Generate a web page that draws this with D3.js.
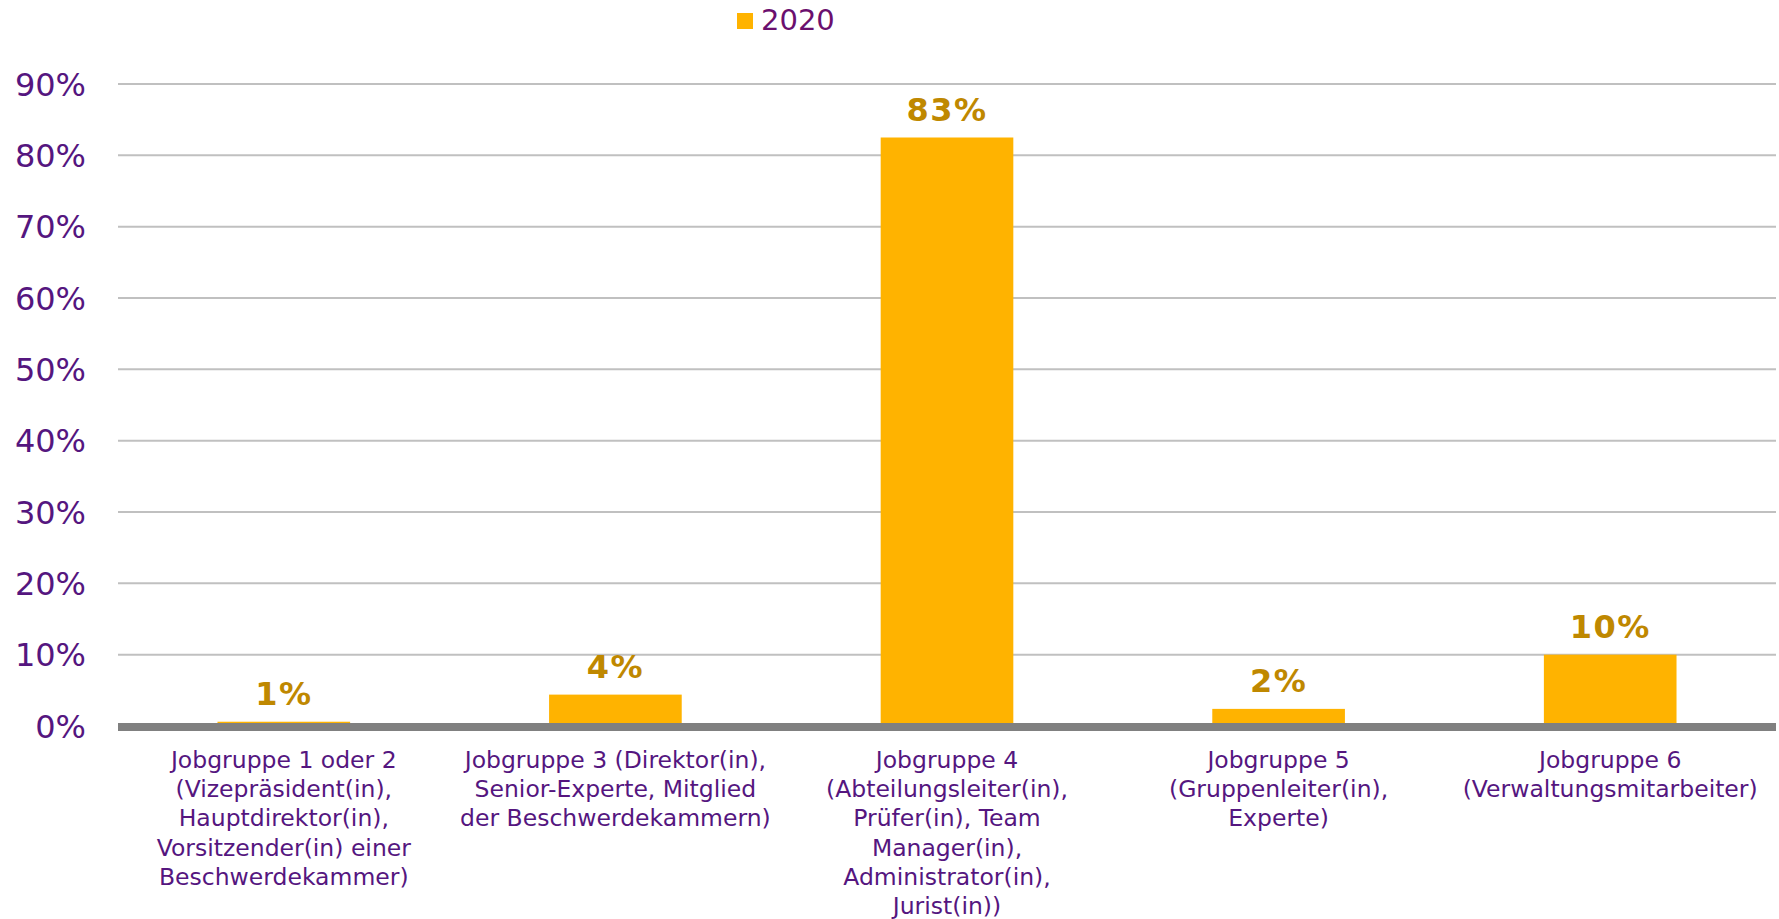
<!DOCTYPE html>
<html>
<head>
<meta charset="utf-8">
<script src="https://cdn.jsdelivr.net/npm/d3@7"></script>
<style>
	body { margin: 0; background: #fff; }
	svg text { font-family: "DejaVu Sans", Verdana, sans-serif; }
</style>
</head>
<body>
<div id="chart"></div>
<script>
var categories = ["g1", "g3", "g4", "g5", "g6"];
var categoryLines = [
	["Jobgruppe 1 oder 2", "(Vizepräsident(in),", "Hauptdirektor(in),", "Vorsitzender(in) einer", "Beschwerdekammer)"],
	["Jobgruppe 3 (Direktor(in),", "Senior-Experte, Mitglied", "der Beschwerdekammern)"],
	["Jobgruppe 4", "(Abteilungsleiter(in),", "Prüfer(in), Team", "Manager(in),", "Administrator(in),", "Jurist(in))"],
	["Jobgruppe 5", "(Gruppenleiter(in),", "Experte)"],
	["Jobgruppe 6", "(Verwaltungsmitarbeiter)"]
];
var values2020 = [0.6, 4.4, 82.5, 2.4, 10.0];
var valueLabels = ["1%", "4%", "83%", "2%", "10%"];
var yTicks = [0, 10, 20, 30, 40, 50, 60, 70, 80, 90];
var seriesName = "2020";

var width = 1779, height = 919;
var margin = {top: 84, right: 3, bottom: 193, left: 118};

var svg = d3.select("#chart").append("svg")
	.attr("width", width)
	.attr("height", height);

var xScale = d3.scaleBand()
	.domain(categories)
	.range([margin.left, width - margin.right])
	.paddingInner(0.6)
	.paddingOuter(0.3);

var yScale = d3.scaleLinear()
	.domain([0, 90])
	.range([height - margin.bottom, margin.top]);

// gridlines
svg.append("g")
	.selectAll("line")
	.data(yTicks)
	.enter()
	.append("line")
	.attr("x1", margin.left)
	.attr("x2", width - margin.right)
	.attr("y1", function(d) { return yScale(d); })
	.attr("y2", function(d) { return yScale(d); })
	.attr("stroke", "#c0c0c0")
	.attr("stroke-width", 2);

// y tick labels
svg.append("g")
	.selectAll("text")
	.data(yTicks)
	.enter()
	.append("text")
	.attr("x", 86)
	.attr("y", function(d) { return yScale(d); })
	.attr("dy", "0.36em")
	.attr("text-anchor", "end")
	.attr("fill", "#55167f")
	.style("font-size", "32px")
	.text(function(d) { return d + "%"; });

// bars
svg.append("g")
	.selectAll("rect")
	.data(values2020)
	.enter()
	.append("rect")
	.attr("x", function(d, i) { return xScale(categories[i]); })
	.attr("y", function(d) { return yScale(d); })
	.attr("width", xScale.bandwidth())
	.attr("height", function(d) { return yScale(0) - yScale(d); })
	.attr("fill", "#ffb300");

// x axis line
svg.append("line")
	.attr("x1", margin.left)
	.attr("x2", width - margin.right)
	.attr("y1", yScale(0) + 1)
	.attr("y2", yScale(0) + 1)
	.attr("stroke", "#808080")
	.attr("stroke-width", 8);

// value labels
svg.append("g")
	.selectAll("text")
	.data(values2020)
	.enter()
	.append("text")
	.attr("x", function(d, i) { return xScale(categories[i]) + xScale.bandwidth() / 2; })
	.attr("y", function(d) { return yScale(d) - 17; })
	.attr("text-anchor", "middle")
	.attr("fill", "#bf8800")
	.style("font-size", "32px")
	.style("font-weight", "bold")
	.style("letter-spacing", "1.5px")
	.text(function(d, i) { return valueLabels[i]; });

// category labels
var catLabels = svg.append("g")
	.selectAll("text")
	.data(categoryLines)
	.enter()
	.append("text")
	.attr("text-anchor", "middle")
	.attr("fill", "#55167f")
	.style("font-size", "23.5px");

catLabels.selectAll("tspan")
	.data(function(d, i) { return d.map(function(line) { return {line: line, i: i}; }); })
	.enter()
	.append("tspan")
	.attr("x", function(d) { return xScale(categories[d.i]) + xScale.bandwidth() / 2; })
	.attr("y", function(d, j) { return 768 + j * 29.2; })
	.text(function(d) { return d.line; });

// legend
var legend = svg.append("g");
legend.append("rect")
	.attr("x", 737)
	.attr("y", 13)
	.attr("width", 16)
	.attr("height", 16)
	.attr("fill", "#ffb300");
legend.append("text")
	.attr("x", 761)
	.attr("y", 30)
	.attr("fill", "#6b0f6e")
	.style("font-size", "29px")
	.text(seriesName);
</script>
</body>
</html>
